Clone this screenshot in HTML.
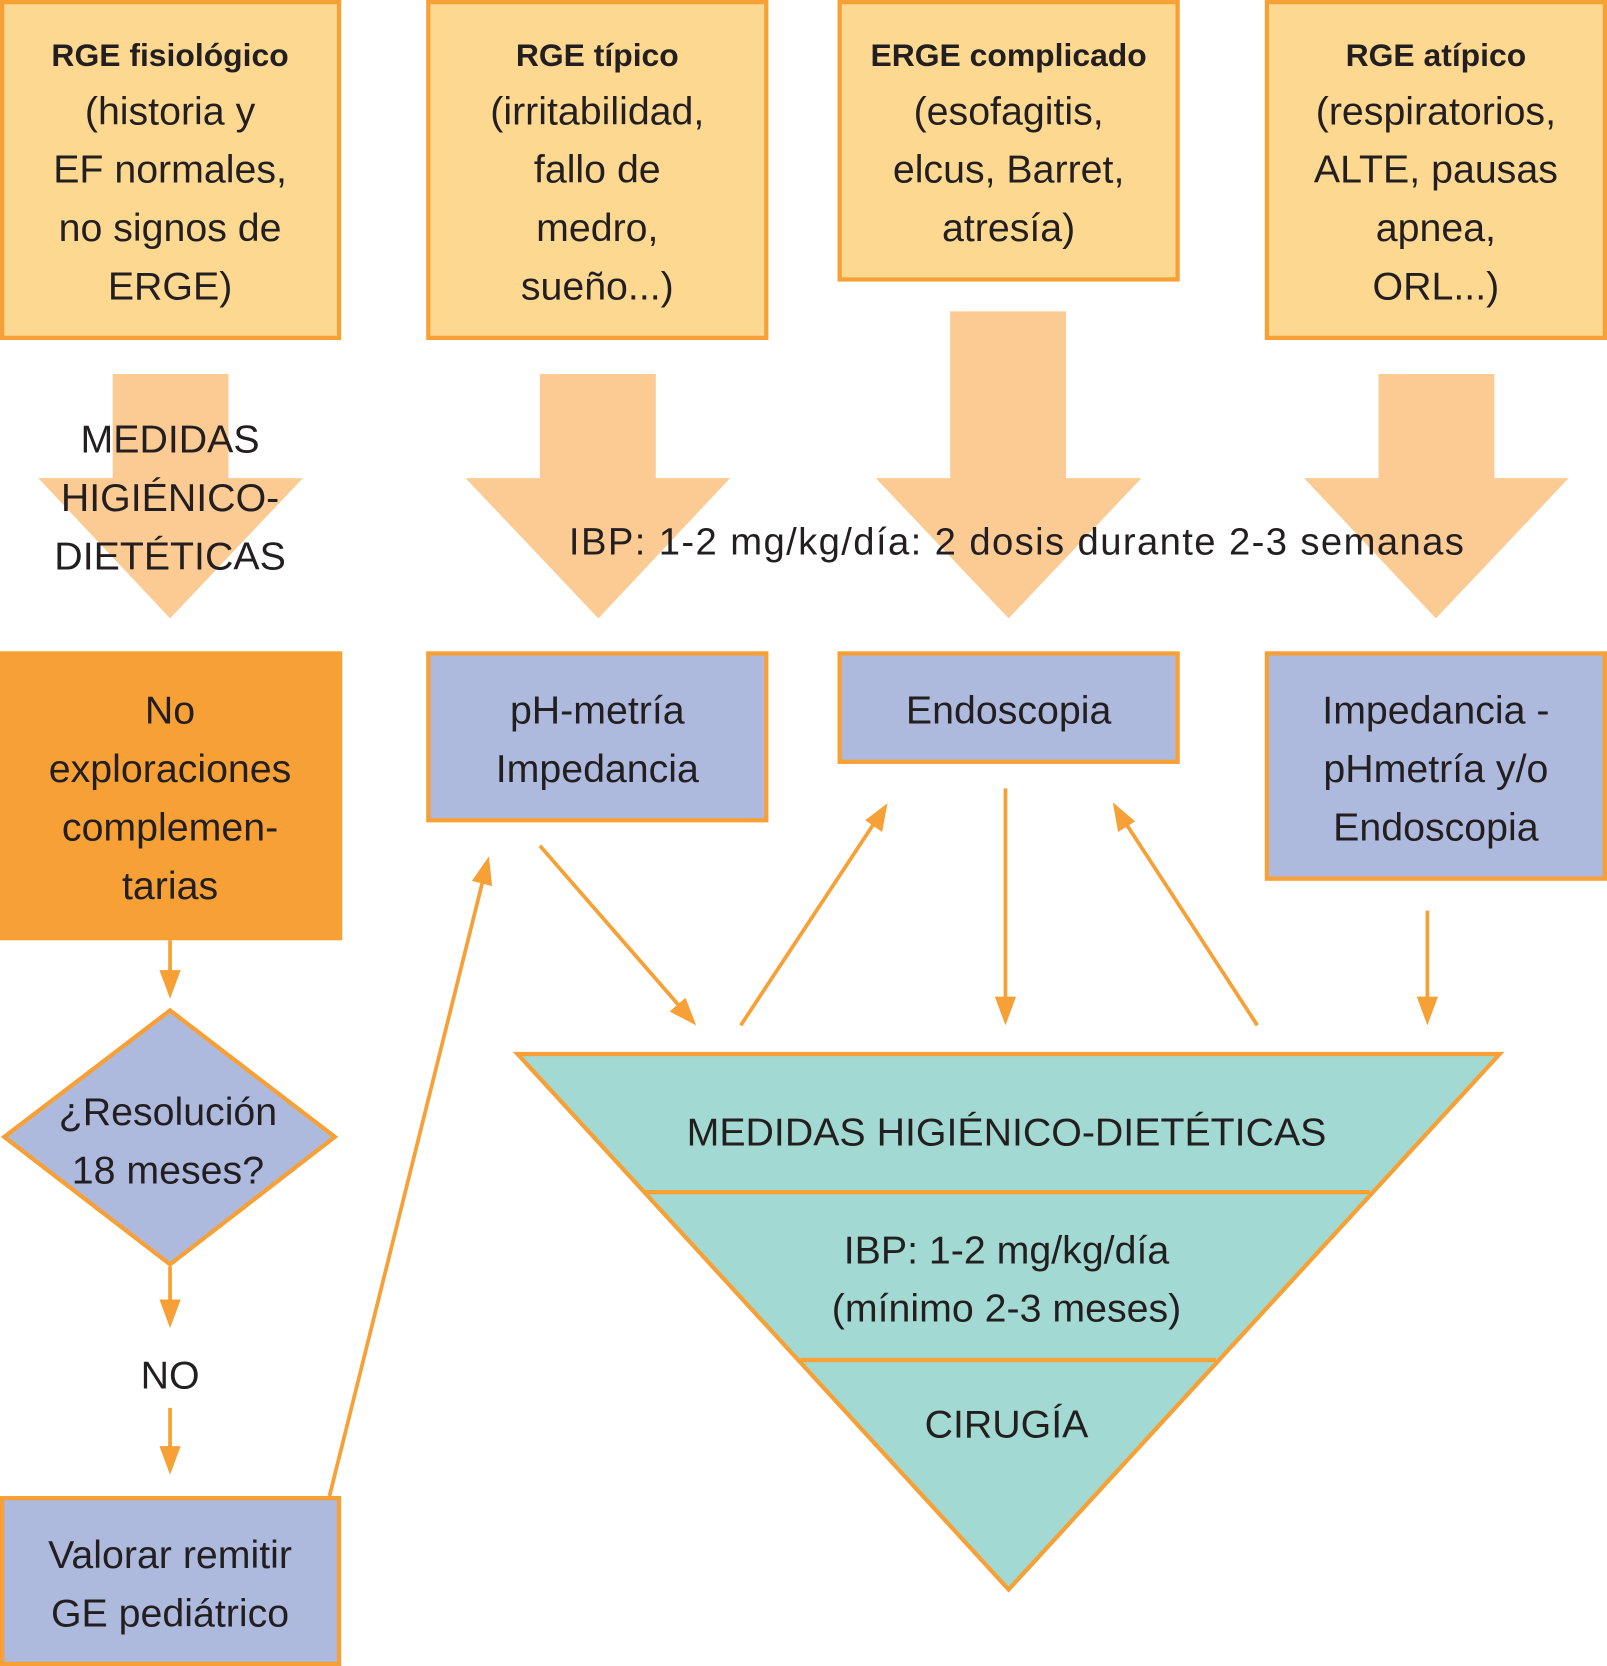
<!DOCTYPE html>
<html><head><meta charset="utf-8"><style>
html,body{margin:0;padding:0;background:#fff;}
svg{display:block;}
text{font-family:"Liberation Sans",sans-serif;fill:#231f20;text-anchor:middle;}
</style></head><body>
<svg width="1607" height="1666" viewBox="0 0 1512 1568" preserveAspectRatio="none" xmlns="http://www.w3.org/2000/svg">
<g stroke="#f7a035" stroke-width="4">
<rect x="2" y="2" width="317" height="316" fill="#fdd891"/>
<rect x="403" y="2" width="318" height="316" fill="#fdd891"/>
<rect x="790" y="2" width="318" height="261" fill="#fdd891"/>
<rect x="1192" y="2" width="318" height="316" fill="#fdd891"/>
</g>
<g fill="#fccb93">
<polygon points="106,352 215,352 215,450 285,450 160,582 36,450 106,450"/>
<polygon points="508,352 617,352 617,450 687,450 563,582 438,450 508,450"/>
<polygon points="894,293 1003,293 1003,450 1074,450 949,582 824,450 894,450"/>
<polygon points="1297,352 1406,352 1406,450 1476,450 1351,582 1227,450 1297,450"/>
</g>
<g font-size="30" font-weight="bold"><text x="160" y="62">RGE fisiológico</text><text x="562" y="62">RGE típico</text><text x="949" y="62">ERGE complicado</text><text x="1351" y="62">RGE atípico</text></g>
<g font-size="37">
<text x="160" y="117">(historia y</text><text x="160" y="172">EF normales,</text><text x="160" y="227">no signos de</text><text x="160" y="282">ERGE)</text>
<text x="562" y="117">(irritabilidad,</text><text x="562" y="172">fallo de</text><text x="562" y="227">medro,</text><text x="562" y="282">sueño...)</text>
<text x="949" y="117">(esofagitis,</text><text x="949" y="172">elcus, Barret,</text><text x="949" y="227">atresía)</text>
<text x="1351" y="117">(respiratorios,</text><text x="1351" y="172">ALTE, pausas</text><text x="1351" y="227">apnea,</text><text x="1351" y="282">ORL...)</text>
<text x="160" y="426">MEDIDAS</text><text x="160" y="481">HIGIÉNICO-</text><text x="160" y="536">DIETÉTICAS</text>
<text x="957" y="522" font-size="36" letter-spacing="1.3">IBP: 1-2 mg/kg/día: 2 dosis durante 2-3 semanas</text>
</g>
<g stroke="#f7a035" stroke-width="4">
<rect x="0" y="615" width="320" height="268" fill="#f7a035"/>
<rect x="403" y="615" width="318" height="157" fill="#aeb9de"/>
<rect x="790" y="615" width="318" height="102" fill="#aeb9de"/>
<rect x="1192" y="615" width="318" height="212" fill="#aeb9de"/>
<polygon points="160,951 315,1070 160,1190 4,1070" fill="#aeb9de"/>
<rect x="2" y="1410" width="317" height="156" fill="#aeb9de"/>
<polygon points="487,992 1411,992 949,1496" fill="#a2dad3"/>
<line x1="607" y1="1122" x2="1289" y2="1122"/>
<line x1="753" y1="1280" x2="1144" y2="1280"/>
</g>
<g font-size="37">
<text x="160" y="681">No</text><text x="160" y="736">exploraciones</text><text x="160" y="791">complemen-</text><text x="160" y="846">tarias</text>
<text x="562" y="681">pH-metría</text><text x="562" y="736">Impedancia</text>
<text x="949" y="681">Endoscopia</text>
<text x="1351" y="681">Impedancia -</text><text x="1351" y="736">pHmetría y/o</text><text x="1351" y="791">Endoscopia</text>
<text x="158" y="1059">¿Resolución</text><text x="158" y="1114">18 meses?</text>
<text x="160" y="1307">NO</text>
<text x="160" y="1476">Valorar remitir</text><text x="160" y="1531">GE pediátrico</text>
<text x="947" y="1078">MEDIDAS HIGIÉNICO-DIETÉTICAS</text>
<text x="947" y="1189">IBP: 1-2 mg/kg/día</text><text x="947" y="1244">(mínimo 2-3 meses)</text>
<text x="947" y="1353">CIRUGÍA</text>
</g>
<g stroke="#f7a035" stroke-width="3.5" fill="none">
<line x1="160" y1="885" x2="160" y2="920"/>
<line x1="160" y1="1192" x2="160" y2="1230"/>
<line x1="160" y1="1325" x2="160" y2="1368"/>
<line x1="310" y1="1408" x2="455" y2="826"/>
<line x1="508" y1="796" x2="642" y2="950"/>
<line x1="697" y1="965" x2="823" y2="774"/>
<line x1="946" y1="742" x2="946" y2="945"/>
<line x1="1183" y1="965" x2="1058" y2="773"/>
<line x1="1343" y1="857" x2="1343" y2="945"/>
</g>
<g fill="#f7a035">
<polygon points="160,940 150,913 170,913"/>
<polygon points="160,1250 150,1223 170,1223"/>
<polygon points="160,1388 150,1361 170,1361"/>
<polygon points="460,806 463,834 444,829"/>
<polygon points="655,965 630,952 645,939"/>
<polygon points="835,756 830,783 814,772"/>
<polygon points="946,965 936,938 956,938"/>
<polygon points="1047,755 1068,773 1052,783"/>
<polygon points="1343,965 1333,938 1353,938"/>
</g>
</svg>
</body></html>
